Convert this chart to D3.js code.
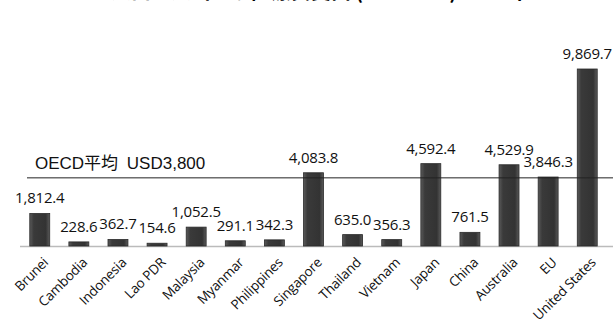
<!DOCTYPE html>
<html>
<head>
<meta charset="utf-8">
<script src="https://cdn.jsdelivr.net/npm/d3@7"></script>
<style>
  body { margin: 0; background: #fff; }
  svg { display: block; }
</style>
</head>
<body>
<svg id="chart" width="613" height="325"></svg>
<script>
// per-capita health spending, USD PPP
const countries = ['Brunei', 'Cambodia', 'Indonesia', 'Lao PDR', 'Malaysia', 'Myanmar', 'Philippines',
  'Singapore', 'Thailand', 'Vietnam', 'Japan', 'China', 'Australia', 'EU', 'United States'];
const spending = [1812.4, 228.6, 362.7, 154.6, 1052.5, 291.1, 342.3,
  4083.8, 635.0, 356.3, 4592.4, 761.5, 4529.9, 3846.3, 9869.7];
const oecdAvg = 3800;
const oecdText = 'OECD平均 USD3,800';

const svg = d3.select('#chart');
const baseY = 246;

const defs = svg.append('defs');
const grad = defs.append('linearGradient').attr('id', 'barfill')
  .attr('x1', '0%').attr('x2', '100%').attr('y1', '0%').attr('y2', '0%');
grad.append('stop').attr('offset', '0%').attr('stop-color', '#5a5a5a');
grad.append('stop').attr('offset', '20%').attr('stop-color', '#3a3a3a');
grad.append('stop').attr('offset', '80%').attr('stop-color', '#333');
grad.append('stop').attr('offset', '100%').attr('stop-color', '#5a5a5a');

const x = d3.scaleBand()
  .domain(countries)
  .range([20, 607])
  .paddingInner(0.49)
  .paddingOuter(0.25);

const y = d3.scaleLinear()
  .domain([0, 9869.7])
  .range([baseY, 69]);

// title (mostly cut off at the top edge)
const title = svg.append('text')
  .attr('x', 111).attr('y', -1)
  .style('font-family', '"Noto Sans CJK JP", sans-serif')
  .style('font-size', '20px')
  .style('font-weight', 'bold');
title.append('tspan').attr('fill', '#000').text('人口一人当たり医療費支出 (');
title.append('tspan').attr('fill', '#aaa').text('USD PPP');
title.append('tspan').attr('fill', '#000').text(') 2014年');

// baseline
svg.append('line')
  .attr('x1', 20).attr('x2', 613)
  .attr('y1', baseY + 0.5).attr('y2', baseY + 0.5)
  .attr('stroke', '#bbb').attr('stroke-width', 1.5);

svg.selectAll('rect.bar')
  .data(countries)
  .enter()
  .append('rect')
  .attr('class', 'bar')
  .attr('x', d => x(d))
  .attr('width', x.bandwidth())
  .attr('y', (d, i) => y(spending[i]))
  .attr('height', (d, i) => baseY - y(spending[i]))
  .attr('fill', 'url(#barfill)')
  .attr('stroke', '#2a2a2a')
  .attr('stroke-width', 0.8);

// OECD average line
svg.append('line')
  .attr('x1', 27).attr('x2', 613)
  .attr('y1', y(oecdAvg)).attr('y2', y(oecdAvg))
  .attr('stroke', '#222').attr('stroke-width', 1);

svg.append('text')
  .attr('x', 35).attr('y', y(oecdAvg) - 9)
  .style('font-family', '"Liberation Sans", "Noto Sans CJK JP", sans-serif')
  .style('font-size', '17px')
  .style('word-spacing', '4px')
  .attr('fill', '#111')
  .text(oecdText);

// value labels
svg.selectAll('text.value')
  .data(countries)
  .enter()
  .append('text')
  .attr('class', 'value')
  .attr('x', d => x(d) + x.bandwidth() / 2)
  .attr('y', (d, i) => y(spending[i]) - 10)
  .attr('text-anchor', 'middle')
  .style('font-family', '"Open Sans", sans-serif')
  .style('font-size', '15px')
  .style('letter-spacing', '-0.2px')
  .attr('fill', '#111')
  .text((d, i) => d3.format(',.1f')(spending[i]));

// category labels, rotated
svg.selectAll('text.cat')
  .data(countries)
  .enter()
  .append('text')
  .attr('class', 'cat')
  .attr('transform', d => `translate(${x(d) + x.bandwidth() / 2 + 6}, ${baseY + 14}) rotate(-45)`)
  .attr('text-anchor', 'end')
  .attr('dy', '0.35em')
  .style('font-family', '"Open Sans", sans-serif')
  .style('font-size', '13.5px')
  .style('letter-spacing', '-0.2px')
  .attr('fill', '#111')
  .text(d => d);
</script>
</body>
</html>
